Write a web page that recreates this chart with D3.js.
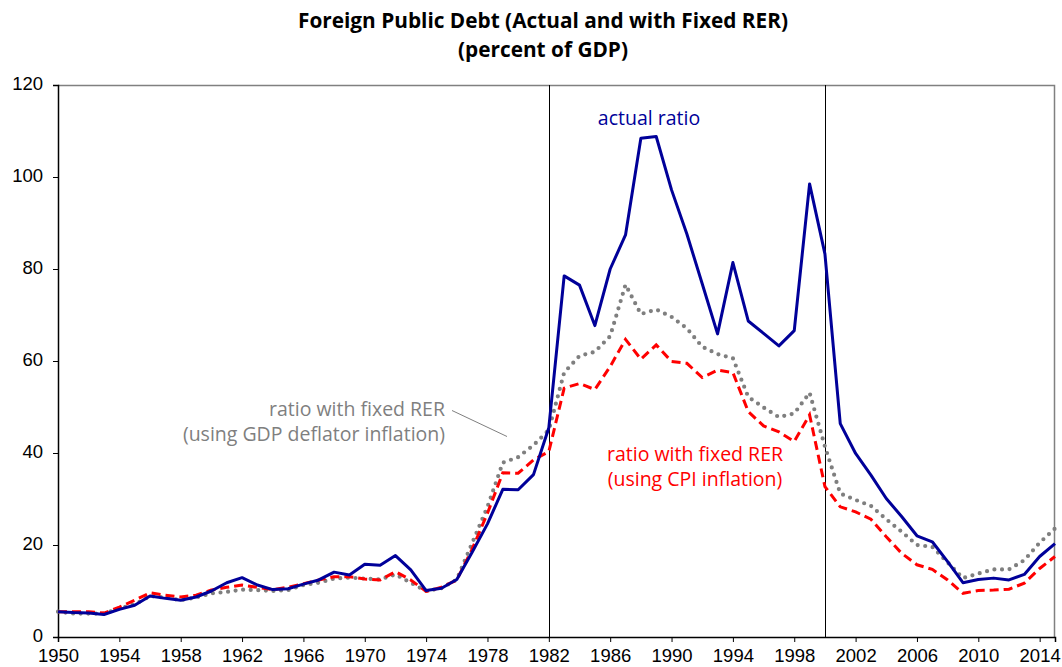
<!DOCTYPE html>
<meta charset="utf-8">
<style>
    body {
        margin: 0;
        background: #fff;
    }
    .axis text {
        font: 18.5px "Liberation Sans", Arial, sans-serif;
        fill: #000;
    }
    .axis path, .axis line {
        stroke: #000;
    }
    .note {
        font-family: "Open Sans", sans-serif;
        font-size: 19.5px;
    }
    .title {
        font-family: "Open Sans", sans-serif;
        font-weight: bold;
        font-size: 20.8px;
    }
</style>
<body>
<script src="https://cdnjs.cloudflare.com/ajax/libs/d3/7.8.5/d3.min.js"></script>
<script>
    var years = d3.range(1950, 2016);

    var actual = [5.5, 5.3, 5.2, 4.9, 6.0, 6.9, 8.9, 8.4, 8.0, 8.7,
        10.0, 11.8, 12.9, 11.3, 10.3, 10.5, 11.5, 12.4, 14.1, 13.5,
        15.8, 15.6, 17.7, 14.6, 10.1, 10.6, 12.5, 18.4, 24.6, 32.1,
        32.0, 35.3, 45.5, 78.5, 76.5, 67.7, 80.0, 87.4, 108.4, 108.8,
        97.2, 87.6, 76.8, 65.9, 81.4, 68.7, 66.0, 63.3, 66.6, 98.5,
        83.3, 46.4, 39.9, 35.2, 30.1, 26.2, 22.0, 20.7, 16.4, 11.8,
        12.5, 12.8, 12.4, 13.6, 17.5, 20.3];

    var gdpDeflator = [5.5, 5.1, 5.1, 5.1, 6.2, 7.1, 8.9, 8.6, 8.0, 8.6,
        9.5, 9.8, 10.3, 10.2, 10.0, 10.2, 11.3, 11.8, 12.7, 12.9,
        12.7, 12.5, 13.6, 11.8, 10.0, 10.6, 12.5, 20.4, 28.3, 37.9,
        39.1, 41.7, 45.0, 57.5, 61.1, 62.0, 65.4, 76.6, 70.2, 71.2,
        69.6, 67.1, 63.1, 61.5, 60.6, 52.2, 49.9, 47.8, 48.6, 53.1,
        41.4, 31.2, 29.8, 28.5, 25.6, 22.9, 20.0, 19.6, 16.2, 12.8,
        13.8, 14.7, 14.7, 16.7, 20.5, 23.6];

    var cpi = [5.5, 5.5, 5.5, 5.2, 6.5, 8.0, 9.6, 9.1, 8.7, 9.1,
        10.2, 10.8, 11.3, 10.8, 10.3, 10.8, 11.6, 12.4, 13.1, 13.1,
        12.6, 12.4, 14.2, 12.4, 9.9, 10.8, 12.4, 19.1, 26.9, 35.7,
        35.6, 38.5, 40.3, 54.1, 55.1, 53.8, 58.8, 64.7, 60.4, 63.5,
        59.9, 59.5, 56.4, 58.0, 57.5, 49.0, 45.9, 44.6, 42.5, 48.3,
        32.7, 28.3, 27.2, 25.6, 21.8, 18.2, 15.7, 14.7, 12.4, 9.5,
        10.1, 10.2, 10.4, 11.7, 14.9, 17.5];

    var xTicks = d3.range(1950, 2015, 4);
    var yTicks = [0, 20, 40, 60, 80, 100, 120];
    var markerYears = [1982, 2000];

    var titleLines = ["Foreign Public Debt (Actual and with Fixed RER)", "(percent of GDP)"];

    var W = 1062, H = 667;
    var margin = {top: 85, right: 7, bottom: 30, left: 58},
        width = W - margin.left - margin.right,
        height = H - margin.top - margin.bottom;

    var svg = d3.select("body").append("svg")
            .attr("width", W)
            .attr("height", H);

    var x = d3.scaleLinear().domain([1950, 2015]).range([0, width]);
    var y = d3.scaleLinear().domain([0, 120]).range([height, 0]);

    var g = svg.append("g")
            .attr("transform", "translate(" + margin.left + "," + margin.top + ")");

    // frame (top and right)
    g.append("path")
            .attr("d", "M0,0.5H" + (width - 0.5) + "V" + height)
            .attr("fill", "none")
            .attr("stroke", "#808080")
            .attr("stroke-width", 1.5);

    g.selectAll("line.marker")
            .data(markerYears)
        .enter().append("line")
            .attr("class", "marker")
            .attr("x1", function (d) { return Math.round(x(d)) + 0.5; })
            .attr("x2", function (d) { return Math.round(x(d)) + 0.5; })
            .attr("y1", 0)
            .attr("y2", height)
            .attr("stroke", "#000")
            .attr("stroke-width", 1);

    g.append("g")
            .attr("class", "axis")
            .attr("transform", "translate(0," + height + ")")
            .call(d3.axisBottom(x).tickValues(xTicks).tickFormat(d3.format("d")).tickSizeOuter(0).tickSize(5).tickPadding(7));

    g.append("g")
            .attr("class", "axis y")
            .call(d3.axisLeft(y).tickValues(yTicks).tickSizeOuter(0).tickSize(5).tickPadding(10));

    // sit the value labels a touch high so "0" clears "1950"
    g.selectAll(".axis.y text").attr("dy", "0.24em");
    g.selectAll(".axis path.domain").attr("stroke-width", 1.5);

    var line = d3.line()
            .x(function (d, i) { return x(years[i]); })
            .y(function (d) { return y(d); });

    g.append("path")
            .datum(gdpDeflator)
            .attr("d", line)
            .attr("fill", "none")
            .attr("stroke", "#7f7f7f")
            .attr("stroke-width", 4.2)
            .attr("stroke-linecap", "round")
            .attr("stroke-dasharray", "0,7.6");

    g.append("path")
            .datum(cpi)
            .attr("d", line)
            .attr("fill", "none")
            .attr("stroke", "#ff0000")
            .attr("stroke-width", 3)
            .attr("stroke-dasharray", "9,5");

    g.append("path")
            .datum(actual)
            .attr("d", line)
            .attr("fill", "none")
            .attr("stroke", "#000099")
            .attr("stroke-width", 3)
            .attr("stroke-linejoin", "round");

    // annotations
    svg.append("text")
            .attr("class", "note")
            .attr("x", 649)
            .attr("y", 125)
            .attr("text-anchor", "middle")
            .attr("fill", "#000099")
            .text("actual ratio");

    var grey = svg.append("text")
            .attr("class", "note")
            .attr("text-anchor", "end")
            .attr("fill", "#7f7f7f");
    grey.append("tspan").attr("x", 445).attr("y", 416).text("ratio with fixed RER");
    grey.append("tspan").attr("x", 445).attr("y", 441).text("(using GDP deflator inflation)");

    svg.append("line")
            .attr("x1", 452).attr("y1", 410.5)
            .attr("x2", 507).attr("y2", 436.5)
            .attr("stroke", "#7f7f7f")
            .attr("stroke-width", 1);

    var red = svg.append("text")
            .attr("class", "note")
            .attr("text-anchor", "middle")
            .attr("fill", "#ff0000");
    red.append("tspan").attr("x", 695).attr("y", 461).text("ratio with fixed RER");
    red.append("tspan").attr("x", 695).attr("y", 486).text("(using CPI inflation)");

    svg.selectAll("text.title")
            .data(titleLines)
        .enter().append("text")
            .attr("class", "title")
            .attr("x", 543)
            .attr("y", function (d, i) { return 28 + i * 29; })
            .attr("text-anchor", "middle")
            .text(function (d) { return d; });
</script>
</body>
